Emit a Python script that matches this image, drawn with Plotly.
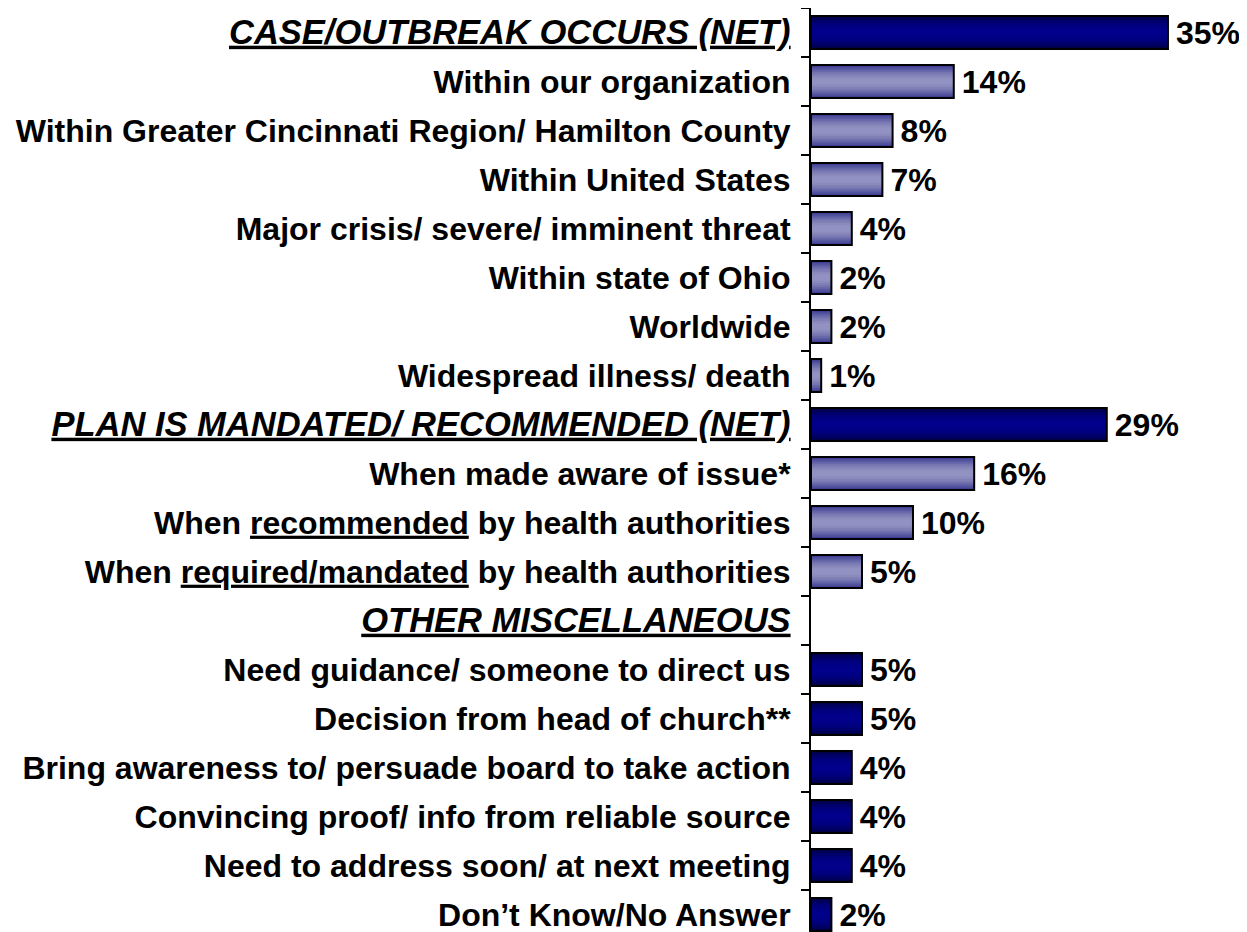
import plotly.graph_objects as go

categories = [
    "CASE/OUTBREAK OCCURS (NET)",
    "Within our organization",
    "Within Greater Cincinnati Region/ Hamilton County",
    "Within United States",
    "Major crisis/ severe/ imminent threat",
    "Within state of Ohio",
    "Worldwide",
    "Widespread illness/ death",
    "PLAN IS MANDATED/ RECOMMENDED (NET)",
    "When made aware of issue*",
    "When recommended by health authorities",
    "When required/mandated by health authorities",
    "OTHER MISCELLANEOUS",
    "Need guidance/ someone to direct us",
    "Decision from head of church**",
    "Bring awareness to/ persuade board to take action",
    "Convincing proof/ info from reliable source",
    "Need to address soon/ at next meeting",
    "Don\u2019t Know/No Answer",
]
H = '<span style="font-size:34.5px"><b><i><u>%s</u></i></b></span>'
tick_labels = [
    H % "CASE/OUTBREAK OCCURS (NET)",
    "<b>Within our organization</b>",
    "<b>Within Greater Cincinnati Region/ Hamilton County</b>",
    "<b>Within United States</b>",
    "<b>Major crisis/ severe/ imminent threat</b>",
    "<b>Within state of Ohio</b>",
    "<b>Worldwide</b>",
    "<b>Widespread illness/ death</b>",
    H % "PLAN IS MANDATED/ RECOMMENDED (NET)",
    "<b>When made aware of issue*</b>",
    "<b>When <u>recommended</u> by health authorities</b>",
    "<b>When <u>required/mandated</u> by health authorities</b>",
    H % "OTHER MISCELLANEOUS",
    "<b>Need guidance/ someone to direct us</b>",
    "<b>Decision from head of church**</b>",
    "<b>Bring awareness to/ persuade board to take action</b>",
    "<b>Convincing proof/ info from reliable source</b>",
    "<b>Need to address soon/ at next meeting</b>",
    "<b>Don\u2019t Know/No Answer</b>",
]
values = [35, 14, 8, 7, 4, 2, 2, 1, 29, 16, 10, 5, None, 5, 5, 4, 4, 4, 2]
kinds = ["dark", "light", "light", "light", "light", "light", "light", "light",
         "dark", "light", "light", "light", None,
         "dark", "dark", "dark", "dark", "dark", "dark"]

# gradient emulation: edge -> center colours
grad = {
    "dark": [(0, 0, 70), (0, 0, 92), (0, 0, 108), (0, 0, 120), (0, 0, 128), (0, 0, 134), (0, 0, 138)],
    "light": [(64, 64, 148), (82, 82, 158), (100, 100, 168), (116, 116, 176),
              (128, 128, 182), (138, 138, 188), (146, 146, 194)],
}
BAR_W = 0.67
FONT = "Liberation Sans, Arial, sans-serif"

fig = go.Figure()

for kind in ["dark", "light"]:
    ys = [c for c, k in zip(categories, kinds) if k == kind]
    xs = [v for v, k in zip(values, kinds) if k == kind]
    n = len(grad[kind])
    for i, col in enumerate(grad[kind]):
        w = BAR_W * (1 - i / (n + 0.5))
        fig.add_trace(go.Bar(
            y=ys, x=xs, orientation="h",
            width=w,
            marker=dict(color="rgb(%d,%d,%d)" % col, line=dict(width=0)),
            hoverinfo="skip", showlegend=False,
        ))

# outline + value labels
ys_all = [c for c, v in zip(categories, values) if v is not None]
xs_all = [v for v in values if v is not None]
fig.add_trace(go.Bar(
    y=ys_all, x=xs_all, orientation="h", width=BAR_W,
    marker=dict(color="rgba(0,0,0,0)", line=dict(color="black", width=2)),
    text=['<span style="font-size:18px"> </span><b>%d%%</b>' % v for v in xs_all],
    textposition="outside",
    constraintext="none",
    textfont=dict(family=FONT, size=32, color="black"),
    cliponaxis=False,
    hoverinfo="skip", showlegend=False,
))

fig.update_layout(
    width=1239, height=924,
    barmode="overlay",
    plot_bgcolor="white", paper_bgcolor="white",
    margin=dict(l=803, r=0, t=0, b=0, autoexpand=False),
    font=dict(family=FONT, size=32, color="black"),
    xaxis=dict(range=[0, 42.75], visible=False, fixedrange=True, automargin=False),
    yaxis=dict(
        type="category", automargin=False,
        categoryorder="array", categoryarray=categories,
        tickvals=categories, ticktext=tick_labels,
        range=[-0.5 + 924 / 49.0, -0.5],
        tickson="boundaries",
        ticks="outside", ticklen=8, tickwidth=2, tickcolor="black",
        showline=True, linecolor="black", linewidth=2,
        showgrid=False, zeroline=False,
        ticklabelstandoff=12,
        tickfont=dict(family=FONT, size=32, color="black"),
    ),
)

fig.write_html("out.html")
